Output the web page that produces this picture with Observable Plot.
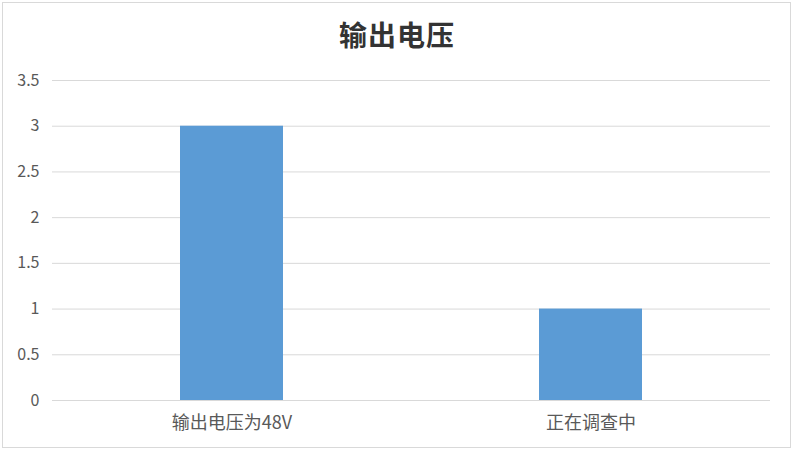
<!DOCTYPE html>
<html><head><meta charset="utf-8">
<script src="https://cdn.jsdelivr.net/npm/d3@7"></script>
<script src="https://cdn.jsdelivr.net/npm/@observablehq/plot@0.6"></script>
<style>
body{margin:0;background:#fff;}
#wrap{position:relative;width:794px;height:452px;overflow:hidden;background:#fff;}
#frame{position:absolute;left:2px;top:2px;width:787px;height:444px;border:1px solid #d9d9d9;box-sizing:content-box;}
#title{position:absolute;left:0;width:794px;top:15px;text-align:center;font-family:"Noto Sans CJK SC",sans-serif;font-weight:bold;font-size:28px;color:#333;line-height:38px;letter-spacing:1px;}
#chart{position:absolute;left:0;top:0;}
</style></head>
<body>
<div id="wrap"><div id="frame"></div><div id="chart"></div><div id="title">输出电压</div></div>
<script>
const categories = ["输出电压为48V", "正在调查中"];
const values = [3, 1];
const yTicks = [0, 0.5, 1, 1.5, 2, 2.5, 3, 3.5];
const title = "输出电压";
document.getElementById("title").textContent = title;
const data = categories.map((c, i) => ({category: c, value: values[i]}));
const chart = Plot.plot({
  width: 794, height: 452,
  marginTop: 80, marginBottom: 52, marginLeft: 52, marginRight: 24,
  style: {fontFamily: '"Noto Sans CJK SC", sans-serif', background: "transparent", color: "#595959"},
  x: {domain: categories, paddingInner: 0.713, paddingOuter: 0.3565, label: null, tickSize: 0, tickPadding: 16},
  y: {domain: [0, 3.5], ticks: yTicks, label: null, tickSize: 0, tickPadding: 13, tickFormat: d => String(d)},
  marks: [
    Plot.ruleY(yTicks, {stroke: "#d9d9d9", strokeWidth: 1}),
    Plot.barY(data, {x: "category", y: "value", fill: "#5b9bd5"}),
    Plot.axisY({ticks: yTicks, tickSize: 0, tickPadding: 13, tickFormat: d => String(d), fontSize: 16, fill: "#595959", label: null}),
    Plot.axisX({tickSize: 0, tickPadding: 16, fontSize: 18, fill: "#595959", label: null})
  ]
});
document.getElementById("chart").appendChild(chart);
</script>
</body></html>
